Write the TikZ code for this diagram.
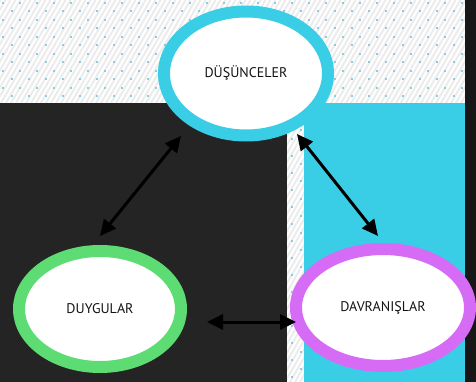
\documentclass[tikz,border=0pt]{standalone}
\usepackage{fontspec}
\setmainfont{PT Sans}
\usetikzlibrary{arrows.meta,shapes.geometric}

\definecolor{panelDark}{RGB}{36,36,36}
\definecolor{edgeDark}{RGB}{23,23,23}
\definecolor{skyCyan}{RGB}{58,205,230}
\definecolor{leafGreen}{RGB}{94,220,116}
\definecolor{lilac}{RGB}{214,107,245}
\definecolor{stripeGray}{RGB}{236,236,236}
\definecolor{dotBlue}{RGB}{135,205,228}
\definecolor{inkText}{RGB}{20,20,20}

\tikzset{
  stripe/.style={stripeGray, line width=2pt},
  bubble/.style={ellipse, fill=white, line width=12pt, inner sep=0pt,
                 font=\fontsize{14}{16}\selectfont, text=inkText},
  link/.style={line width=3pt, black,
               {Triangle[length=16pt,width=15pt]}-{Triangle[length=16pt,width=15pt]}}
}

\begin{document}
\begin{tikzpicture}[x=1pt,y=-1pt]
  \useasboundingbox (0,0) rectangle (476,382);

  % textured backdrop: light diagonal stripes with a staggered dot grid
  \fill[white] (0,0) rectangle (476,382);
  \begin{scope}
    \clip (0,0) rectangle (476,382);
    \foreach \i in {-46,...,96} {
      \draw[stripe] ({\i*5},382) -- ++(220.5,-382);
    }
    \foreach \r in {0,...,44} {
      \foreach \c in {0,...,28} {
        \fill[dotBlue] ({2+17*\c+8.5*mod(\r,2)},{2+8.5*\r}) rectangle ++(2,2);
      }
    }
  \end{scope}

  % colour panels
  \fill[panelDark] (0,103) rectangle (287,382);
  \fill[skyCyan] (304,103) rectangle (465,382);
  \fill[edgeDark] (465,0) rectangle (476,382);

  % the three ideas
  \node[bubble, draw=skyCyan, minimum width=164pt, minimum height=124pt]
    (dus) at (246,73.5) {DÜŞÜNCELER};
  \node[bubble, draw=leafGreen, minimum width=162pt, minimum height=116pt]
    (duy) at (100,309) {DUYGULAR};
  \node[bubble, draw=lilac, minimum width=174pt, minimum height=117pt]
    (dav) at (383,307.5) {DAVRANIŞLAR};

  % arrow end points
  \coordinate (duyTop) at (100,236);
  \coordinate (dusLeft) at (181,136);
  \coordinate (dusRight) at (297,134);
  \coordinate (davTop) at (378,236);
  \coordinate (duyRight) at (207,322);
  \coordinate (davLeft) at (296,322);

  \draw[link] (duyTop) -- (dusLeft);
  \draw[link] (dusRight) -- (davTop);
  \draw[link] (duyRight) -- (davLeft);
\end{tikzpicture}
\end{document}
